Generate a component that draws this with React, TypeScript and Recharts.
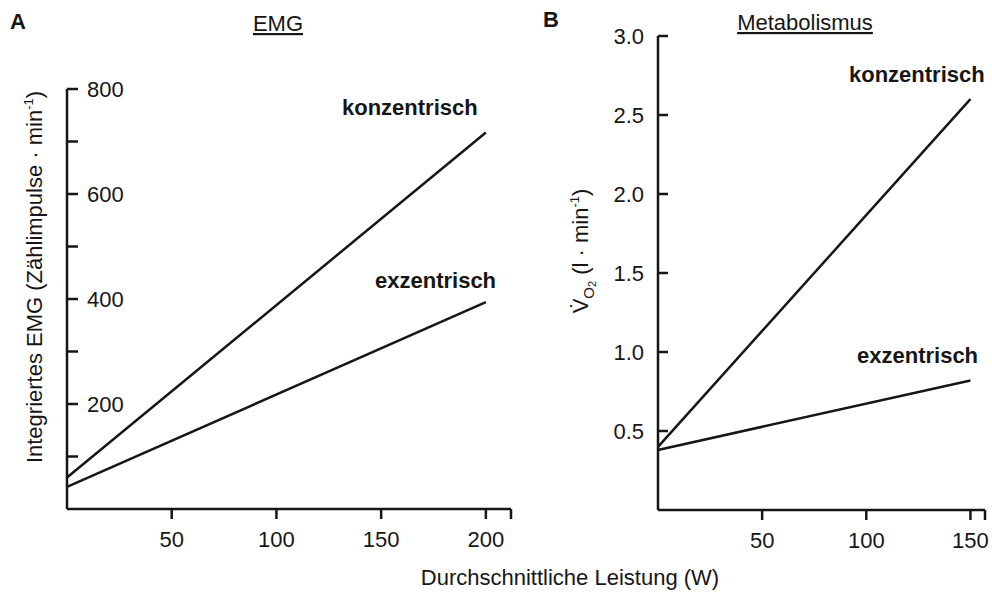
import { Line, LineChart, XAxis, YAxis } from 'recharts';

const FONT = '"Liberation Sans", Arial, Helvetica, sans-serif';
const INK = '#161616';

// Panel A: EMG
const leistungA = [0, 200];
const konzentrischA = [60, 717];
const exzentrischA = [42, 394];
const xTicksA = [50, 100, 150, 200];
const xEndA = 212;
const yTicksA = [100, 200, 300, 400, 500, 600, 700, 800];
const yLabelsA = [200, 400, 600, 800];

// Panel B: Metabolismus
const leistungB = [0, 150];
const konzentrischB = [0.4, 2.6];
const exzentrischB = [0.38, 0.82];
const xTicksB = [50, 100, 150];
const xEndB = 157;
const yTicksB = [0.5, 1.0, 1.5, 2.0, 2.5, 3.0];

const dataA = leistungA.map((x, i) => ({
  x,
  konz: konzentrischA[i],
  exz: exzentrischA[i],
}));
const dataB = leistungB.map((x, i) => ({
  x,
  konz: konzentrischB[i],
  exz: exzentrischB[i],
}));

const textStyle = { fontFamily: FONT, fontSize: 22, fill: INK };

function XTick(props: any, labels: number[]) {
  const { x, y, payload } = props;
  const show = labels.includes(payload.value);
  return (
    <g>
      <line x1={x} y1={y} x2={x} y2={y + 10} stroke={INK} strokeWidth={2.5} />
      {show && (
        <text x={x} y={y + 38} textAnchor="middle" style={textStyle}>
          {payload.value}
        </text>
      )}
    </g>
  );
}

// ticks point into the plot, labels sit to the right (panel A)
function YTickA(props: any) {
  const { x, y, payload } = props;
  const show = yLabelsA.includes(payload.value);
  return (
    <g>
      <line x1={x} y1={y} x2={x + 11} y2={y} stroke={INK} strokeWidth={2.5} />
      {show && (
        <text x={x + 20} y={y + 8} textAnchor="start" style={textStyle}>
          {payload.value}
        </text>
      )}
    </g>
  );
}

// ticks point into the plot, labels outside on the left (panel B)
function YTickB(props: any) {
  const { x, y, payload } = props;
  return (
    <g>
      <line x1={x} y1={y} x2={x + 10} y2={y} stroke={INK} strokeWidth={2.5} />
      <text x={x - 14} y={y + 8} textAnchor="end" style={textStyle}>
        {payload.value.toFixed(1)}
      </text>
    </g>
  );
}

const axisLine = { stroke: INK, strokeWidth: 2.5 };

function Panel({
  data,
  xEnd,
  xTicks,
  yDomain,
  yTicks,
  yTick,
  margin,
  width,
}: {
  data: Array<Record<string, number>>;
  xEnd: number;
  xTicks: number[];
  yDomain: [number, number];
  yTicks: number[];
  yTick: (p: any) => any;
  margin: { top: number; right: number; bottom: number; left: number };
  width: number;
}) {
  return (
    <LineChart width={width} height={592} data={data} margin={margin}>
      <XAxis
        dataKey="x"
        type="number"
        domain={[0, xEnd]}
        ticks={[...xTicks, xEnd]}
        interval={0}
        height={60}
        tickSize={0}
        tickMargin={0}
        tickLine={false}
        axisLine={axisLine}
        tick={(p: any) => XTick(p, xTicks)}
      />
      <YAxis
        type="number"
        domain={yDomain}
        ticks={yTicks}
        interval={0}
        width={60}
        tickSize={0}
        tickMargin={0}
        tickLine={false}
        axisLine={axisLine}
        tick={yTick}
      />
      <Line
        type="linear"
        dataKey="konz"
        stroke={INK}
        strokeWidth={2.5}
        dot={false}
        isAnimationActive={false}
      />
      <Line
        type="linear"
        dataKey="exz"
        stroke={INK}
        strokeWidth={2.5}
        dot={false}
        isAnimationActive={false}
      />
    </LineChart>
  );
}

export default function App() {
  const bold = { ...textStyle, fontWeight: 700 };
  return (
    <div
      style={{
        position: 'absolute',
        left: 0,
        top: 0,
        width: 992,
        height: 592,
        background: '#fff',
      }}
    >
      <div style={{ position: 'absolute', left: 0, top: 0 }}>
        <Panel
          data={dataA}
          xEnd={xEndA}
          xTicks={xTicksA}
          yDomain={[0, 800]}
          yTicks={yTicksA}
          yTick={YTickA}
          width={540}
          margin={{ top: 89, right: 29, bottom: 23, left: 7 }}
        />
      </div>
      <div style={{ position: 'absolute', left: 540, top: 0 }}>
        <Panel
          data={dataB}
          xEnd={xEndB}
          xTicks={xTicksB}
          yDomain={[0, 3]}
          yTicks={yTicksB}
          yTick={YTickB}
          width={452}
          margin={{ top: 36, right: 7, bottom: 22, left: 58 }}
        />
      </div>
      <svg
        width={992}
        height={592}
        style={{ position: 'absolute', left: 0, top: 0, pointerEvents: 'none' }}
      >
        <text x={10} y={29} style={bold}>A</text>
        <text x={543} y={27} style={bold}>B</text>
        <text x={278} y={31} textAnchor="middle" style={textStyle} textDecoration="underline">
          EMG
        </text>
        <text x={805} y={30} textAnchor="middle" style={textStyle} textDecoration="underline">
          Metabolismus
        </text>

        <text x={342} y={115} style={bold}>konzentrisch</text>
        <text x={375} y={288} style={bold}>exzentrisch</text>
        <text x={849} y={82} style={bold}>konzentrisch</text>
        <text x={857} y={363} style={bold}>exzentrisch</text>

        <text
          x={42}
          y={277}
          textAnchor="middle"
          transform="rotate(-90 42 277)"
          style={textStyle}
        >
          Integriertes EMG (Zählimpulse · min
          <tspan fontSize={13} dy={-9}>-1</tspan>
          <tspan dy={9}>)</tspan>
        </text>
        <text
          x={588}
          y={251}
          textAnchor="middle"
          transform="rotate(-90 588 251)"
          style={textStyle}
        >
          {'V\u0307'}
          <tspan fontSize={15} dy={6}>O</tspan>
          <tspan fontSize={11} dy={2}>2</tspan>
          <tspan dy={-8}>{'  (l · min'}</tspan>
          <tspan fontSize={13} dy={-9}>-1</tspan>
          <tspan dy={9}>)</tspan>
        </text>

        <text x={570} y={585} textAnchor="middle" style={textStyle}>
          Durchschnittliche Leistung (W)
        </text>
      </svg>
    </div>
  );
}
